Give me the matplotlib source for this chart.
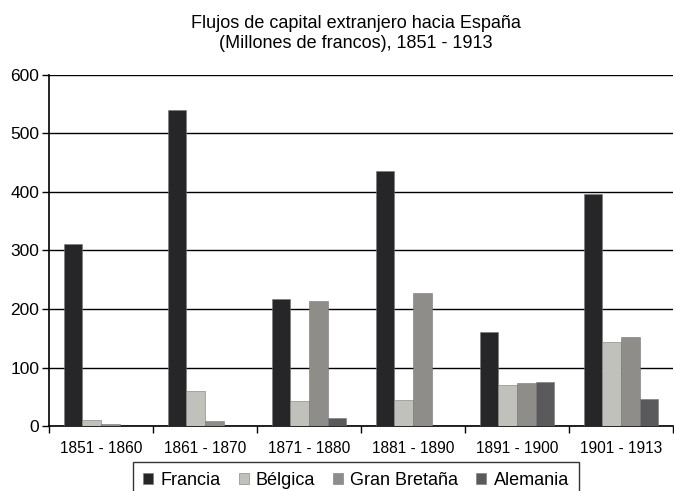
import matplotlib
matplotlib.use("Agg")
import matplotlib.pyplot as plt
import numpy as np

plt.rcParams['font.family'] = ['Liberation Sans', 'DejaVu Sans']

periods = ["1851 - 1860", "1861 - 1870", "1871 - 1880", "1881 - 1890", "1891 - 1900", "1901 - 1913"]
francia = [311, 540, 217, 436, 161, 396]
belgica = [11, 60, 43, 44, 70, 144]
gran_bretana = [4, 9, 214, 228, 74, 152]
alemania = [0, 0, 14, 0, 76, 46]
series_names = ["Francia", "Bélgica", "Gran Bretaña", "Alemania"]
colors = ["#262628", "#c0c1bb", "#8e8d89", "#5a595b"]
yticks = [0, 100, 200, 300, 400, 500, 600]

fig = plt.figure(figsize=(6.74, 4.91), dpi=100)
ax = fig.add_axes([49/674, 1-426/491, 624/674, 351/491])

x = np.arange(len(periods))
w = 0.18
data = [francia, belgica, gran_bretana, alemania]
for i, (vals, name, c) in enumerate(zip(data, series_names, colors)):
    ax.bar(x + (i - 1.5) * w, vals, width=w, color=c, edgecolor="#777777", linewidth=0.4,
           label=name, zorder=3)

ax.set_xlim(-0.5, len(periods) - 0.5)
ax.set_ylim(0, 600)
ax.set_yticks(yticks)
ax.tick_params(axis='y', labelsize=12.5, length=5, width=1, pad=2)
ax.yaxis.grid(True, color="black", linewidth=1.0, zorder=0)
ax.set_axisbelow(True)

ax.set_xticks(x)
ax.set_xticklabels(periods, fontsize=11.2)
ax.tick_params(axis='x', length=0, pad=11)
ax.set_xticks(np.arange(-0.5, len(periods) + 0.5, 1), minor=True)
ax.tick_params(axis='x', which='minor', length=5, width=1, direction='out')

for s in ['top', 'right']:
    ax.spines[s].set_visible(False)
ax.spines['left'].set_linewidth(1.2)
ax.spines['bottom'].set_linewidth(1.2)

fig.text(356/674, 1-23/491, "Flujos de capital extranjero hacia España", ha='center', va='center', fontsize=13)
fig.text(356/674, 1-43/491, "(Millones de francos), 1851 - 1913", ha='center', va='center', fontsize=13)

leg = fig.legend(loc='upper center', bbox_to_anchor=(356/674, 1-462/491), ncol=4, fontsize=13,
                 frameon=True, fancybox=False, edgecolor='black', handlelength=0.55, handleheight=0.55,
                 handletextpad=0.4, columnspacing=1.0, borderpad=0.55, borderaxespad=0)
leg.get_frame().set_linewidth(1.0)

fig.savefig("out.png", dpi=100)
